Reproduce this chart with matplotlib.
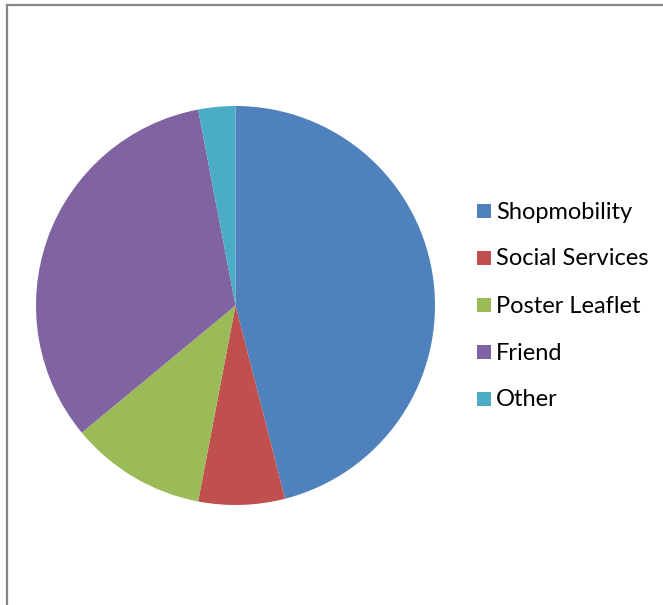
import matplotlib
matplotlib.use("Agg")
import matplotlib.pyplot as plt
from matplotlib.patches import Rectangle
from matplotlib.lines import Line2D

categories = ["Shopmobility", "Social Services", "Poster Leaflet", "Friend", "Other"]
values = [46, 7, 11, 33, 3]
colors = ["#4F81BD", "#C0504D", "#9BBB59", "#8064A2", "#4BACC6"]

W, H = 663, 605
fig = plt.figure(figsize=(W / 100, H / 100), dpi=100)
fig.patch.set_facecolor("white")

def fx(px):
    return px / W

def fy(py):
    return 1 - py / H

# pie area
cx, cy, r = 235.5, 305.5, 199.5
ax = fig.add_axes([fx(cx - r), fy(cy + r), 2 * r / W, 2 * r / H])
ax.pie(values, colors=colors, startangle=90, counterclock=False,
       radius=1, wedgeprops=dict(linewidth=0, antialiased=True))
ax.set_xlim(-1, 1)
ax.set_ylim(-1, 1)
ax.set_aspect("auto")
ax.axis("off")

# chart frame (top and left edges)
fig.add_artist(Line2D([fx(7), fx(W)], [fy(5), fy(5)], color="#868686", lw=1.6,
                      transform=fig.transFigure))
fig.add_artist(Line2D([fx(7), fx(7)], [fy(5), fy(H)], color="#868686", lw=1.6,
                      transform=fig.transFigure))

# legend
x_box, box = 477, 14
y0, dy = 211, 47
for i, (lab, col) in enumerate(zip(categories, colors)):
    yc = y0 + i * dy
    fig.add_artist(Rectangle((fx(x_box), fy(yc + box / 2)), box / W, box / H,
                             facecolor=col, edgecolor="none",
                             transform=fig.transFigure))
    fig.text(fx(496), fy(yc + 1), lab, fontsize=17, family="Lato",
             va="center", ha="left", color="#000000")

fig.savefig("out.png", dpi=100)
